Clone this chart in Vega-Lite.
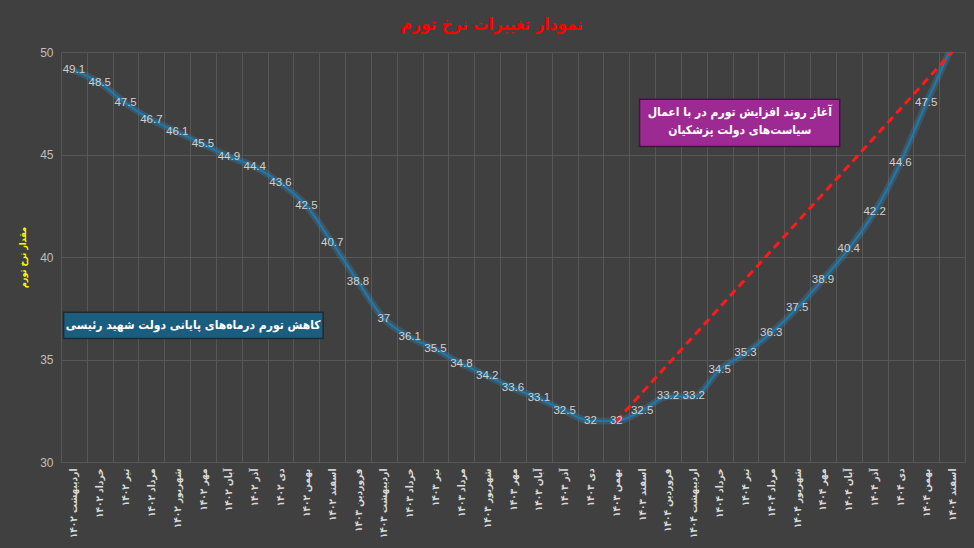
{
  "$schema": "https://vega.github.io/schema/vega-lite/v6.json",
  "width": 974,
  "height": 548,
  "autosize": {"type": "fit", "contains": "padding"},
  "padding": {"left": 18, "right": 9, "top": 16, "bottom": 10},
  "background": "#404040",
  "title": {
    "text": "نمودار تغییرات نرخ تورم",
    "color": "#ff0000",
    "fontSize": 17,
    "fontWeight": "bold",
    "font": "DejaVu Sans Condensed",
    "anchor": "middle",
    "frame": "bounds",
    "offset": 12
  },
  "config": {
    "view": {"stroke": null},
    "axis": {"gridColor": "#575757", "gridWidth": 1, "domain": false, "ticks": false}
  },
  "datasets": {
    "inflation": [
      {"month": "اردیبهشت ۱۴۰۲", "rate": 49.1},
      {"month": "خرداد ۱۴۰۲", "rate": 48.5},
      {"month": "تیر ۱۴۰۲", "rate": 47.5},
      {"month": "مرداد ۱۴۰۲", "rate": 46.7},
      {"month": "شهریور ۱۴۰۲", "rate": 46.1},
      {"month": "مهر ۱۴۰۲", "rate": 45.5},
      {"month": "آبان ۱۴۰۲", "rate": 44.9},
      {"month": "آذر ۱۴۰۲", "rate": 44.4},
      {"month": "دی ۱۴۰۲", "rate": 43.6},
      {"month": "بهمن ۱۴۰۲", "rate": 42.5},
      {"month": "اسفند ۱۴۰۲", "rate": 40.7},
      {"month": "فروردین ۱۴۰۳", "rate": 38.8},
      {"month": "اردیبهشت ۱۴۰۳", "rate": 37},
      {"month": "خرداد ۱۴۰۳", "rate": 36.1},
      {"month": "تیر ۱۴۰۳", "rate": 35.5},
      {"month": "مرداد ۱۴۰۳", "rate": 34.8},
      {"month": "شهریور ۱۴۰۳", "rate": 34.2},
      {"month": "مهر ۱۴۰۳", "rate": 33.6},
      {"month": "آبان ۱۴۰۳", "rate": 33.1},
      {"month": "آذر ۱۴۰۳", "rate": 32.5},
      {"month": "دی ۱۴۰۳", "rate": 32},
      {"month": "بهمن ۱۴۰۳", "rate": 32, "trend": 32},
      {"month": "اسفند ۱۴۰۳", "rate": 32.5},
      {"month": "فروردین ۱۴۰۴", "rate": 33.2},
      {"month": "اردیبهشت ۱۴۰۴", "rate": 33.2},
      {"month": "خرداد ۱۴۰۴", "rate": 34.5},
      {"month": "تیر ۱۴۰۴", "rate": 35.3},
      {"month": "مرداد ۱۴۰۴", "rate": 36.3},
      {"month": "شهریور ۱۴۰۴", "rate": 37.5},
      {"month": "مهر ۱۴۰۴", "rate": 38.9},
      {"month": "آبان ۱۴۰۴", "rate": 40.4},
      {"month": "آذر ۱۴۰۴", "rate": 42.2},
      {"month": "دی ۱۴۰۴", "rate": 44.6},
      {"month": "بهمن ۱۴۰۴", "rate": 47.5},
      {"month": "اسفند ۱۴۰۴", "rate": 50.3, "trend": 50}
    ],
    "notes": [
      {"note": "falling", "line1": "کاهش تورم درماه‌های پایانی دولت شهید رئیسی", "line2": "", "x1": 0.1, "x2": 10.15, "y1": 37.3, "y2": 36.03, "xc": 5.12, "ya": 36.67, "yb": 36.67},
      {"note": "rising", "line1": "آغاز روند افزایش تورم در با اعمال", "line2": "سیاست‌های دولت پزشکیان", "x1": 22.4, "x2": 30.15, "y1": 47.7, "y2": 45.39, "xc": 26.28, "ya": 47.05, "yb": 46.2}
    ]
  },
  "resolve": {"scale": {"x": "independent"}},
  "layer": [
    {
      "data": {"name": "inflation"},
      "encoding": {
        "x": {
          "field": "month",
          "type": "ordinal",
          "sort": null,
          "scale": {"paddingInner": 0, "paddingOuter": 0},
          "axis": {
            "title": null,
            "labelAngle": -90,
            "labelColor": "#d9d9d9",
            "labelFont": "DejaVu Sans Condensed",
            "labelFontWeight": "bold",
            "labelFontSize": 10,
            "labelPadding": 6,
            "grid": true,
            "tickBand": "extent"
          }
        },
        "y": {
          "type": "quantitative",
          "scale": {"domain": [30, 50], "nice": false, "zero": false},
          "axis": {
            "title": "مقدار نرخ تورم",
            "titleColor": "#ffff00",
            "titleFont": "DejaVu Sans Condensed",
            "titleFontWeight": "bold",
            "titleFontSize": 9,
            "titlePadding": 12,
            "values": [30, 35, 40, 45, 50],
            "labelColor": "#bfbfbf",
            "labelFont": "Liberation Sans",
            "labelFontSize": 12,
            "labelPadding": 8
          }
        }
      },
      "layer": [
        {
          "mark": {"type": "line", "interpolate": "monotone", "color": "#3aa0d8", "strokeWidth": 7, "opacity": 0.22, "clip": true},
          "encoding": {"y": {"field": "rate"}}
        },
        {
          "mark": {"type": "line", "interpolate": "monotone", "color": "#1b79ad", "strokeWidth": 2.2, "clip": true},
          "encoding": {"y": {"field": "rate"}}
        },
        {
          "transform": [{"filter": "isValid(datum.trend)"}],
          "mark": {"type": "line", "color": "#ff1a1a", "strokeWidth": 3, "strokeDash": [8, 5], "invalid": "filter"},
          "encoding": {"y": {"field": "trend"}}
        },
        {
          "transform": [{"filter": "datum.rate < 50"}],
          "mark": {"type": "text", "color": "#d0d0d0", "font": "Liberation Sans", "fontSize": 11.5, "align": "center", "baseline": "middle"},
          "encoding": {"y": {"field": "rate"}, "text": {"field": "rate", "type": "quantitative"}}
        }
      ]
    },
    {
      "data": {"name": "notes"},
      "encoding": {
        "x": {"type": "quantitative", "scale": {"domain": [0, 35], "nice": false, "zero": false}, "axis": null}
      },
      "layer": [
        {
          "transform": [{"filter": "datum.note == 'falling'"}],
          "mark": {"type": "rect", "fill": "#1a5d7e", "stroke": "#1d2b33", "strokeWidth": 1.5},
          "encoding": {"x": {"field": "x1"}, "x2": {"field": "x2"}, "y": {"field": "y1", "type": "quantitative"}, "y2": {"field": "y2"}}
        },
        {
          "transform": [{"filter": "datum.note == 'rising'"}],
          "mark": {"type": "rect", "fill": "#9c2a92", "stroke": "#3b1838", "strokeWidth": 1.5},
          "encoding": {"x": {"field": "x1"}, "x2": {"field": "x2"}, "y": {"field": "y1", "type": "quantitative"}, "y2": {"field": "y2"}}
        },
        {
          "mark": {"type": "text", "color": "#ffffff", "font": "DejaVu Sans Condensed", "fontWeight": "bold", "fontSize": 12, "align": "center", "baseline": "middle"},
          "encoding": {"x": {"field": "xc"}, "y": {"field": "ya", "type": "quantitative"}, "text": {"field": "line1"}}
        },
        {
          "mark": {"type": "text", "color": "#ffffff", "font": "DejaVu Sans Condensed", "fontWeight": "bold", "fontSize": 12, "align": "center", "baseline": "middle"},
          "encoding": {"x": {"field": "xc"}, "y": {"field": "yb", "type": "quantitative"}, "text": {"field": "line2"}}
        }
      ]
    }
  ]
}
